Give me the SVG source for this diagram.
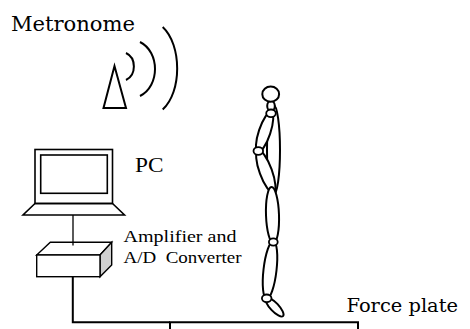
<svg xmlns="http://www.w3.org/2000/svg" width="470" height="329" viewBox="0 0 470 329">
  <style>
    .ln { fill: none; stroke: #000; stroke-linecap: butt; stroke-linejoin: miter; }
    .body { fill: #fff; stroke: #000; stroke-width: 2; }
    .joint { fill: #fff; stroke: #000; stroke-width: 1.8; }
    .serif { font-family: "DejaVu Serif", "Liberation Serif", serif; fill: #000; }
    .times { font-family: "Liberation Serif", "Times New Roman", serif; fill: #000; }
  </style>
  <rect width="470" height="329" fill="#fff"/>

  <!-- Metronome -->
  <g id="metronome">
    <text class="serif" x="11" y="31" font-size="21" textLength="124" lengthAdjust="spacingAndGlyphs">Metronome</text>
    <polygon class="ln" stroke-width="2" points="114.5,66 103.5,108 126,108"/>
    <path class="ln" stroke-width="2" d="M126,53 C136.5,58 136.5,75 126,80"/>
    <path class="ln" stroke-width="2" d="M140,42 C160,52 160,86 140,96"/>
    <path class="ln" stroke-width="2" d="M162.7,27 C182,45 182,92 162.7,109.5"/>
  </g>

  <!-- PC (laptop) -->
  <g id="pc">
    <rect class="ln" stroke-width="1.6" x="35" y="149.5" width="77.5" height="54"/>
    <rect class="ln" stroke-width="1.6" x="40.7" y="155" width="66.6" height="38.3"/>
    <polygon class="ln" stroke-width="1.6" points="35,203.5 112.5,203.5 124.5,215 23,215"/>
    <text class="times" x="135" y="172" font-size="21" textLength="28.5" lengthAdjust="spacingAndGlyphs">PC</text>
  </g>

  <!-- Amplifier and A/D converter box -->
  <g id="amplifier">
    <polygon fill="#fff" stroke="#000" stroke-width="1.4" points="36.7,255 100,255 111.7,242.3 50.3,242.3"/>
    <polygon fill="#d0d0d0" stroke="#000" stroke-width="1.4" points="100,255 111.7,242.3 111.7,265 100,276.7"/>
    <rect fill="#fff" stroke="#000" stroke-width="1.4" x="36.7" y="255" width="63.3" height="21.7"/>
    <text class="times" x="123.5" y="242.3" font-size="16.5" textLength="113" lengthAdjust="spacingAndGlyphs">Amplifier and</text>
    <text class="times" x="123.5" y="263" font-size="16.5" textLength="118" lengthAdjust="spacingAndGlyphs" xml:space="preserve">A/D  Converter</text>
  </g>

  <!-- Standing subject -->
  <g id="subject">
    <ellipse class="body" cx="273.5" cy="150" rx="6.5" ry="45"/>
    <ellipse class="body" cx="271" cy="106" rx="3.8" ry="5"/>
    <ellipse class="body" cx="270.7" cy="94.2" rx="8.4" ry="7.6"/>
    <ellipse class="body" cx="264.6" cy="132" rx="5.8" ry="21" transform="rotate(18.5 264.6 132)"/>
    <ellipse class="body" cx="265.8" cy="171.5" rx="6.2" ry="22.5" transform="rotate(-20 265.8 171.5)"/>
    <ellipse class="joint" cx="271" cy="113.3" rx="4.8" ry="3.8"/>
    <ellipse class="joint" cx="258.3" cy="151" rx="4.8" ry="3.8"/>
    <ellipse class="body" cx="272.5" cy="215" rx="6.5" ry="28" transform="rotate(-2 272.5 215)"/>
    <ellipse class="body" cx="270" cy="270" rx="6.5" ry="29" transform="rotate(6.6 270 270)"/>
    <ellipse class="body" cx="274.5" cy="307" rx="4.2" ry="12.5" transform="rotate(-43 274.5 307)"/>
    <ellipse class="joint" cx="273.3" cy="242" rx="4.4" ry="3.6"/>
    <ellipse class="joint" cx="266.7" cy="298.3" rx="4.8" ry="3.8"/>
  </g>

  <!-- Force plate -->
  <g id="force-plate">
    <text class="serif" x="346.5" y="311.7" font-size="19" textLength="111.5" lengthAdjust="spacingAndGlyphs">Force plate</text>
    <polyline class="ln" stroke-width="2" points="170,331 170,322.3 358,322.3 358,331"/>
  </g>

  <!-- Cables -->
  <g id="connectors">
    <line class="ln" stroke-width="1.3" x1="73" y1="215" x2="73" y2="245.5"/>
    <polyline class="ln" stroke-width="2" points="72.8,276.7 72.8,322.3 170,322.3"/>
  </g>
</svg>
